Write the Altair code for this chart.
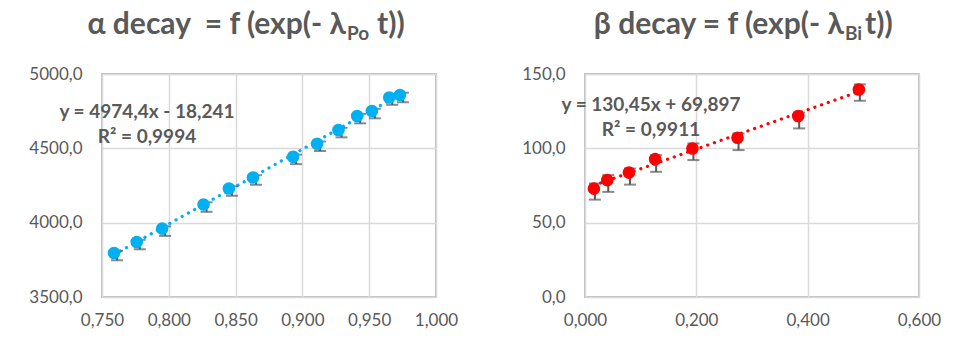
import altair as alt
import pandas as pd

# ---- data ----
alpha_x = [0.759, 0.776, 0.795, 0.826, 0.845, 0.863, 0.893, 0.911, 0.927, 0.941, 0.952, 0.965, 0.973]
alpha_y = [3796, 3870, 3960, 4122, 4230, 4304, 4443, 4531, 4623, 4717, 4751, 4842, 4859]
alpha_lo = [3747, 3821, 3911, 4073, 4181, 4255, 4394, 4482, 4574, 4668, 4702, 4793, 4810]
alpha_hi = [3811, 3885, 3975, 4137, 4245, 4319, 4458, 4546, 4638, 4732, 4766, 4857, 4874]

beta_x = [0.016, 0.040, 0.079, 0.126, 0.193, 0.274, 0.383, 0.492]
beta_y = [72.9, 78.6, 83.7, 92.7, 99.9, 107.1, 121.7, 139.6]
beta_lo = [65.5, 70.7, 75.6, 84.2, 92.1, 98.8, 113.4, 132.0]
beta_hi = [76.3, 82.0, 86.4, 95.4, 103.3, 110.0, 124.1, 143.0]

alpha_title = ["α decay\u00a0 = f (exp(- λ", "Po", "t))"]
beta_title = ["β decay = f (exp(- λ", "Bi", "t))"]
alpha_eq = ["y = 4974,4x - 18,241", "R² = 0,9994"]
beta_eq = ["y = 130,45x + 69,897", "R² = 0,9911"]

alpha_xticks = [0.75, 0.80, 0.85, 0.90, 0.95, 1.00]
alpha_yticks = [3500, 4000, 4500, 5000]
beta_xticks = [0.0, 0.2, 0.4, 0.6]
beta_yticks = [0, 50, 100, 150]

GRAY = "#595959"
FONT = "Lato"


def panel(xs, ys, lo, hi, color, xticks, yticks, title, eq, geo, cap_offset):
    df = pd.DataFrame({"x": xs, "y": ys, "lo": lo, "hi": hi})
    xscale = alt.Scale(domain=[xticks[0], xticks[-1]], nice=False, zero=False)
    yscale = alt.Scale(domain=[yticks[0], yticks[-1]], nice=False, zero=False)
    xaxis = alt.Axis(values=xticks, title=None, labelExpr="replace(format(datum.value, '.3f'), '.', ',')",
                     ticks=False, domain=False, labelPadding=15, labelFlush=False,
                     gridColor="#d9d9d9", gridWidth=1.5)
    yaxis = alt.Axis(values=yticks, title=None, labelExpr="replace(format(datum.value, '.1f'), '.', ',')",
                     ticks=False, domain=False, labelPadding=20, labelFlush=False,
                     gridColor="#d9d9d9", gridWidth=1.5)
    base = alt.Chart(df)
    trend = base.transform_regression("x", "y").mark_line(
        color=color, strokeWidth=3.2, strokeDash=[0.1, 7], strokeCap="round"
    ).encode(x=alt.X("x:Q", scale=xscale, axis=xaxis), y=alt.Y("y:Q", scale=yscale, axis=yaxis))
    rule = base.mark_rule(color=GRAY, strokeWidth=2, xOffset=cap_offset).encode(
        x="x:Q", y="lo:Q", y2="hi:Q")
    cap_lo = base.mark_tick(color=GRAY, thickness=2, size=12, orient="horizontal", xOffset=cap_offset).encode(
        x="x:Q", y="lo:Q")
    cap_hi = base.mark_tick(color=GRAY, thickness=2, size=12, orient="horizontal", xOffset=cap_offset).encode(
        x="x:Q", y="hi:Q")
    pts = base.mark_circle(color=color, opacity=1, size=160).encode(x="x:Q", y="y:Q")

    tdf = pd.DataFrame({"t": title})
    t1 = alt.Chart(tdf.iloc[[0]]).mark_text(font=FONT, fontWeight="bold", fontSize=30, color=GRAY,
                                           align="right", baseline="alphabetic").encode(
        x=alt.value(geo["lam"]), y=alt.value(-40.5), text="t:N")
    t2 = alt.Chart(tdf.iloc[[1]]).mark_text(font=FONT, fontWeight="bold", fontSize=19, color=GRAY,
                                           align="left", baseline="alphabetic").encode(
        x=alt.value(geo["lam"] + 1), y=alt.value(-34.5), text="t:N")
    t3 = alt.Chart(tdf.iloc[[2]]).mark_text(font=FONT, fontWeight="bold", fontSize=30, color=GRAY,
                                           align="left", baseline="alphabetic").encode(
        x=alt.value(geo["rest"]), y=alt.value(-40.5), text="t:N")
    edf = pd.DataFrame({"t": eq})
    e1 = alt.Chart(edf.iloc[[0]]).mark_text(font=FONT, fontWeight="bold", fontSize=19, color=GRAY,
                                           align="center", baseline="alphabetic").encode(
        x=alt.value(geo["eqx"]), y=alt.value(geo["eqy"]), text="t:N")
    e2 = alt.Chart(edf.iloc[[1]]).mark_text(font=FONT, fontWeight="bold", fontSize=19, color=GRAY,
                                           align="center", baseline="alphabetic").encode(
        x=alt.value(geo["eqx"]), y=alt.value(geo["eqy"] + 25), text="t:N")
    return alt.layer(trend, rule, cap_lo, cap_hi, pts, t1, t2, t3, e1, e2).properties(width=334, height=223)


left = panel(alpha_x, alpha_y, alpha_lo, alpha_hi, "#00b0f0", alpha_xticks, alpha_yticks, alpha_title, alpha_eq,
             {"lam": 244, "rest": 275, "eqx": 45, "eqy": 44}, 3)
right = panel(beta_x, beta_y, beta_lo, beta_hi, "#ff0000", beta_xticks, beta_yticks, beta_title, beta_eq,
              {"lam": 259, "rest": 280, "eqx": 66, "eqy": 37}, 1)

chart = alt.hconcat(left, right, spacing=61).configure_view(
    stroke="#bfbfbf", strokeWidth=2
).configure_axis(
    labelFont=FONT, labelFontSize=17, labelColor=GRAY, grid=True
).properties(padding={"left": 19, "top": 0, "right": 5, "bottom": 5}, background="white")

chart.save("out.html", embed_options={"renderer": "svg", "actions": False})
